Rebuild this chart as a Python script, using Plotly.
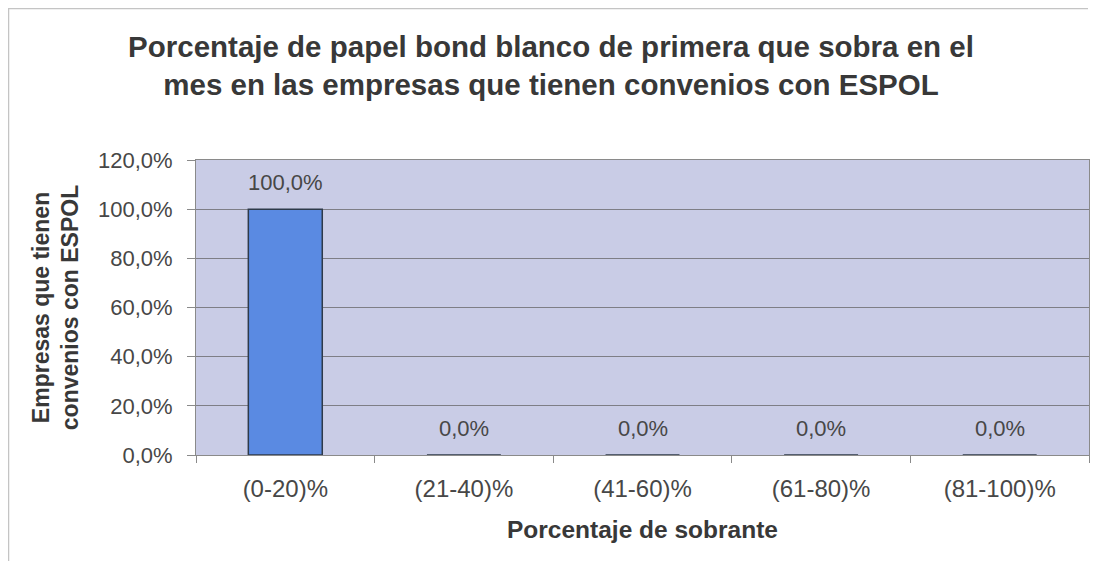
import plotly.graph_objects as go

categories = ["(0-20)%", "(21-40)%", "(41-60)%", "(61-80)%", "(81-100)%"]
values = [100.0, 0.0, 0.0, 0.0, 0.0]
y_ticks = [0, 20, 40, 60, 80, 100, 120]


def pct(v):
    return f"{v:.1f}".replace(".", ",") + "%"


FONT = "Liberation Sans, Arial, sans-serif"
# figure sized so that, with the page's 8px body margin, it fills the 1099x569 window
W, H = 1083, 553
L, R, T, B = 188, 2, 152, 106
PW, PH = W - L - R, H - T - B

fig = go.Figure()
fig.add_trace(go.Bar(
    x=categories,
    y=values,
    width=0.414,
    marker=dict(color="#5A8AE2", line=dict(color="#2E3A4A", width=1.5)),
    hoverinfo="skip",
))

# data labels placed above each bar, Excel-style gap
for c, v in zip(categories, values):
    fig.add_annotation(
        x=c, y=v, xref="x", yref="y",
        text=pct(v), showarrow=False,
        yanchor="bottom", yshift=12,
        font=dict(family=FONT, size=22, color="#474747"),
    )


def px_x(p):
    return (p - L) / PW


def px_y(p):
    return (H - B - p) / PH


# faint chart-area border (scan edge)
fig.add_shape(type="line", xref="paper", yref="paper",
              x0=px_x(0), x1=px_x(W - 3), y0=px_y(0.5), y1=px_y(0.5),
              line=dict(color="#C4C4C4", width=1.5))
fig.add_shape(type="line", xref="paper", yref="paper",
              x0=px_x(0.5), x1=px_x(0.5), y0=px_y(0), y1=px_y(H),
              line=dict(color="#C4C4C4", width=1.5))

fig.update_layout(
    width=W, height=H,
    paper_bgcolor="#FFFFFF",
    plot_bgcolor="#C9CCE6",
    margin=dict(l=L, r=R, t=T, b=B),
    showlegend=False,
    title=dict(
        text="Porcentaje de papel bond blanco de primera que sobra en el<br>mes en las empresas que tienen convenios con ESPOL",
        x=543 / W, xanchor="center", xref="container",
        y=1 - 49 / H, yanchor="middle", yref="container",
        font=dict(family=FONT, size=29.5, color="#383838", weight="bold"),
    ),
    font=dict(family=FONT, color="#474747"),
)

fig.update_xaxes(
    type="category",
    tickson="boundaries",
    ticks="outside", ticklen=7, tickcolor="#8A8A8A",
    showline=True, linecolor="#8A8A8A", linewidth=1, mirror=True,
    showgrid=False,
    ticklabelstandoff=12,
    tickfont=dict(family=FONT, size=24, color="#474747"),
    title=dict(text="<b>Porcentaje de sobrante</b>",
               font=dict(family=FONT, size=24.5, color="#383838"), standoff=20),
)
fig.update_yaxes(
    range=[0, 120],
    tickvals=y_ticks,
    ticktext=[pct(v) for v in y_ticks],
    ticks="outside", ticklen=8, tickcolor="#8A8A8A",
    showline=True, linecolor="#8A8A8A", linewidth=1, mirror=True,
    showgrid=True, gridcolor="#7E7E86", gridwidth=1,
    zeroline=False,
    ticklabelstandoff=10,
    tickfont=dict(family=FONT, size=22, color="#474747"),
    title=dict(text="<b>Empresas que tienen<br>convenios con ESPOL</b>",
               font=dict(family=FONT, size=23, color="#383838"), standoff=12),
)

fig.write_html("out.html")
